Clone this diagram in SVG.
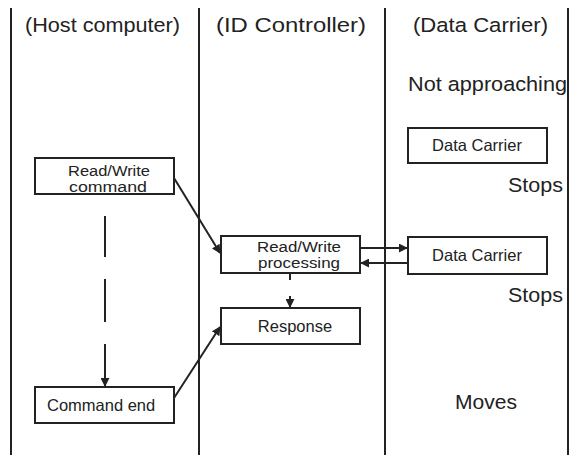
<svg xmlns="http://www.w3.org/2000/svg" width="572" height="461" viewBox="0 0 572 461">
<style>
.lane{stroke:#222;stroke-width:2}
.box{fill:#fff;stroke:#222;stroke-width:2}
.t{font-family:"Liberation Sans",Arial,sans-serif;fill:#222}
.h{font-size:20.5px}
.s{font-size:16.5px}
.s2{font-size:15.5px}
.c{stroke:#222;stroke-width:2;fill:none}
</style>
<defs>
<marker id="ah" viewBox="0 0 10 10" refX="9" refY="5" markerWidth="4.5" markerHeight="4.5" orient="auto" markerUnits="strokeWidth">
<path d="M0,0 L10,5 L0,10 z" fill="#222"/>
</marker>
</defs>
<g id="lanes">
<line class="lane" x1="11" y1="8" x2="11" y2="455"/>
<line class="lane" x1="199" y1="8" x2="199" y2="455"/>
<line class="lane" x1="385" y1="8" x2="385" y2="455"/>
<line class="lane" x1="568" y1="8" x2="568" y2="455"/>
<text class="t h" x="25" y="32" textLength="155" lengthAdjust="spacingAndGlyphs">(Host computer)</text>
<text class="t h" x="216" y="32" textLength="150" lengthAdjust="spacingAndGlyphs">(ID Controller)</text>
<text class="t h" x="413" y="32" textLength="135" lengthAdjust="spacingAndGlyphs">(Data Carrier)</text>
<text class="t h" x="408" y="91" textLength="159" lengthAdjust="spacingAndGlyphs">Not approaching</text>
<text class="t h" x="508" y="192" textLength="55" lengthAdjust="spacingAndGlyphs">Stops</text>
<text class="t h" x="508" y="302" textLength="55" lengthAdjust="spacingAndGlyphs">Stops</text>
<text class="t h" x="455" y="409" textLength="62" lengthAdjust="spacingAndGlyphs">Moves</text>
</g>
<g id="connectors">
<line class="c" x1="105" y1="216" x2="105" y2="257"/>
<line class="c" x1="105" y1="279" x2="105" y2="322"/>
<line class="c" x1="105" y1="344" x2="105" y2="386" marker-end="url(#ah)"/>
<line class="c" x1="174" y1="178" x2="220" y2="253" marker-end="url(#ah)"/>
<line class="c" x1="174" y1="398" x2="220" y2="327" marker-end="url(#ah)"/>
<line class="c" x1="290" y1="274" x2="290" y2="280"/>
<line class="c" x1="290" y1="296" x2="290" y2="307" marker-end="url(#ah)"/>
<line class="c" x1="360" y1="248" x2="407" y2="248" marker-end="url(#ah)"/>
<line class="c" x1="408" y1="263" x2="361" y2="263" marker-end="url(#ah)"/>
</g>
<g id="rw-command">
<rect class="box" x="35" y="158" width="139" height="36"/>
<text class="t s2" x="68" y="176" textLength="82" lengthAdjust="spacingAndGlyphs">Read/Write</text>
<text class="t s2" x="69" y="192" textLength="78" lengthAdjust="spacingAndGlyphs">command</text>
</g>
<g id="command-end">
<rect class="box" x="35" y="387" width="139" height="36"/>
<text class="t s" x="47" y="411">Command end</text>
</g>
<g id="rw-processing">
<rect class="box" x="221" y="236" width="139" height="37"/>
<text class="t s2" x="257" y="252" textLength="84" lengthAdjust="spacingAndGlyphs">Read/Write</text>
<text class="t s2" x="258" y="268" textLength="82" lengthAdjust="spacingAndGlyphs">processing</text>
</g>
<g id="response">
<rect class="box" x="221" y="308" width="139" height="36"/>
<text class="t s" x="295" y="332" text-anchor="middle">Response</text>
</g>
<g id="carrier-1">
<rect class="box" x="408" y="128" width="139" height="35"/>
<text class="t s" x="477" y="151" text-anchor="middle">Data Carrier</text>
</g>
<g id="carrier-2">
<rect class="box" x="408" y="237" width="139" height="37"/>
<text class="t s" x="477" y="261" text-anchor="middle">Data Carrier</text>
</g>
</svg>
